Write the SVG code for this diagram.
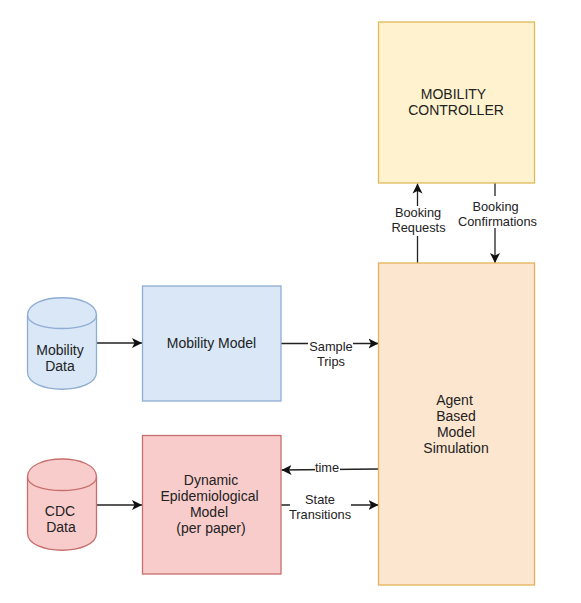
<svg xmlns="http://www.w3.org/2000/svg" width="581" height="603" viewBox="0 0 581 603">
<style>
text{font-family:"Liberation Sans",Arial,sans-serif;font-size:14px;fill:#222;text-anchor:middle}
.s{font-size:12.800px}
.c{fill:none;stroke:#222;stroke-width:1.3}
.blue{fill:#d9e7f7;stroke:#8fadd3;stroke-width:1.3}
.red{fill:#f9cccc;stroke:#c76f6d;stroke-width:1.3}
.yel{fill:#fff2cf;stroke:#e0b95a;stroke-width:1.3}
.ora{fill:#fde6cf;stroke:#e5b45a;stroke-width:1.3}
.lb{fill:#fff;stroke:none}
</style>
<defs><marker id="a" markerUnits="userSpaceOnUse" markerWidth="11" markerHeight="11" refX="10" refY="5.500" orient="auto"><path d="M0 0.500L10 5.500L0 10.500L2.500 5.500Z" fill="#111"/></marker></defs>
<rect width="581" height="603" fill="#fff"/>
<g id="connectors">
<path class="c" d="M97 343H142" marker-end="url(#a)"/>
<path class="c" d="M97 505H142" marker-end="url(#a)"/>
<path class="c" d="M281 343.500H378.500" marker-end="url(#a)"/>
<path class="c" d="M378 469L281.500 470" marker-end="url(#a)"/>
<path class="c" d="M281 505H378.500" marker-end="url(#a)"/>
<path class="c" d="M417.500 263V183.500" marker-end="url(#a)"/>
<path class="c" d="M495 183V263" marker-end="url(#a)"/>
</g>
<g id="mobility-controller"><rect class="yel" x="378.500" y="22" width="156" height="161"/><text x="453.500" y="99">MOBILITY</text><text x="456" y="115">CONTROLLER</text></g>
<g id="abm"><rect class="ora" x="378.500" y="263" width="156" height="322"/><text x="454.500" y="405">Agent</text><text x="456" y="421">Based</text><text x="456" y="437">Model</text><text x="456" y="453">Simulation</text></g>
<g id="mobility-model"><rect class="blue" x="142.500" y="286" width="138.500" height="115"/><text x="211.500" y="348">Mobility Model</text></g>
<g id="epi-model"><rect class="red" x="142.500" y="435.500" width="138.500" height="138.500"/><text x="211" y="485">Dynamic</text><text x="209.500" y="501">Epidemiological</text><text x="209" y="517">Model</text><text x="211" y="533">(per paper)</text></g>
<g id="mobility-data"><path class="blue" d="M27.500 315C27.500 292 96.500 292 96.500 315V372C96.500 395 27.500 395 27.500 372Z"/><path class="blue" style="fill:none" d="M27.500 315C27.500 333 96.500 333 96.500 315"/><text x="60" y="355">Mobility</text><text x="60" y="371">Data</text></g>
<g id="cdc-data"><path class="red" d="M27.500 477C27.500 453 96.500 453 96.500 477V533C96.500 556 27.500 556 27.500 533Z"/><path class="red" style="fill:none" d="M27.500 477C27.500 495 96.500 495 96.500 477"/><text x="60" y="516">CDC</text><text x="61" y="532">Data</text></g>
<g id="labels">
<rect class="lb" x="393" y="206" width="50" height="30"/><text class="s" x="418" y="217">Booking</text><text class="s" x="418.500" y="232">Requests</text>
<rect class="lb" x="457" y="196" width="80" height="32"/><text class="s" x="495.500" y="211">Booking</text><text class="s" x="497.500" y="226">Confirmations</text>
<rect class="lb" x="308" y="340" width="45" height="28"/><text class="s" x="331" y="351">Sample</text><text class="s" x="331" y="366">Trips</text>
<rect class="lb" x="315" y="463" width="25" height="12"/><text class="s" x="327" y="472">time</text>
<rect class="lb" x="290" y="494" width="61" height="30"/><text class="s" x="320" y="504">State</text><text class="s" x="320" y="519">Transitions</text>
</g>
</svg>
